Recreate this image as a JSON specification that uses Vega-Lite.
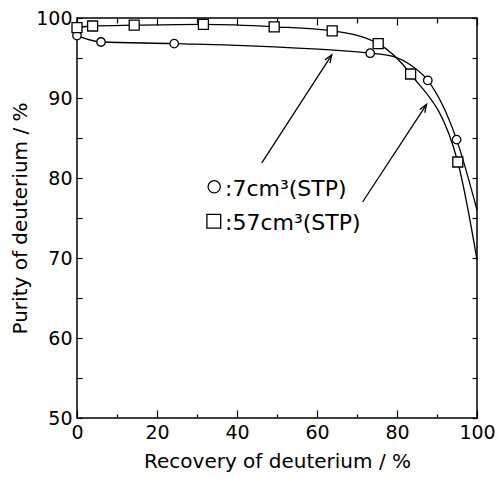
{
  "$schema": "https://vega.github.io/schema/vega-lite/v6.json",
  "width": 400,
  "height": 400,
  "autosize": {"type": "none"},
  "padding": {"left": 77, "top": 18, "right": 21, "bottom": 60},
  "background": "white",
  "config": {
    "view": {"stroke": "black", "strokeWidth": 1.5},
    "font": "DejaVu Sans",
    "axis": {
      "domain": false, "grid": false, "tickColor": "black", "labelColor": "black", "titleColor": "black",
      "labelFont": "DejaVu Sans", "titleFont": "DejaVu Sans", "labelFontSize": 19, "titleFontSize": 20,
      "titleFontWeight": "normal", "tickWidth": 1.2, "labelFlush": false, "labelOverlap": false
    }
  },
  "datasets": {
    "curves": [
      {"series": "7", "x": 0, "y": 97.8},
      {"series": "7", "x": 6, "y": 97.0},
      {"series": "7", "x": 24.3, "y": 96.8},
      {"series": "7", "x": 73.3, "y": 95.6},
      {"series": "7", "x": 79, "y": 95.2},
      {"series": "7", "x": 84, "y": 93.9},
      {"series": "7", "x": 87.7, "y": 92.2},
      {"series": "7", "x": 94.9, "y": 84.8},
      {"series": "7", "x": 100, "y": 76.0},
      {"series": "57", "x": 0, "y": 98.8},
      {"series": "57", "x": 3.9, "y": 99.0},
      {"series": "57", "x": 14.3, "y": 99.1},
      {"series": "57", "x": 31.6, "y": 99.2},
      {"series": "57", "x": 49.3, "y": 98.9},
      {"series": "57", "x": 63.8, "y": 98.4},
      {"series": "57", "x": 75.3, "y": 96.8},
      {"series": "57", "x": 83.4, "y": 93.0},
      {"series": "57", "x": 95.2, "y": 82.0},
      {"series": "57", "x": 100, "y": 69.8}
    ],
    "points": [
      {"series": "7", "x": 0, "y": 97.8},
      {"series": "7", "x": 6, "y": 97.0},
      {"series": "7", "x": 24.3, "y": 96.8},
      {"series": "7", "x": 73.3, "y": 95.6},
      {"series": "7", "x": 87.7, "y": 92.2},
      {"series": "7", "x": 94.9, "y": 84.8},
      {"series": "57", "x": 0, "y": 98.8},
      {"series": "57", "x": 3.9, "y": 99.0},
      {"series": "57", "x": 14.3, "y": 99.1},
      {"series": "57", "x": 31.6, "y": 99.2},
      {"series": "57", "x": 49.3, "y": 98.9},
      {"series": "57", "x": 63.8, "y": 98.4},
      {"series": "57", "x": 75.3, "y": 96.8},
      {"series": "57", "x": 83.4, "y": 93.0},
      {"series": "57", "x": 95.2, "y": 82.0}
    ],
    "legend": [
      {"series": "7", "x": 34.3, "y": 78.9, "tx": 37, "ty": 77.7, "label": ":7cm³(STP)"},
      {"series": "57", "x": 34.2, "y": 74.6, "tx": 37, "ty": 73.5, "label": ":57cm³(STP)"}
    ],
    "arrows": [
      {"x": 46.2, "y": 81.9, "x2": 63.7, "y2": 95.4},
      {"x": 71.4, "y": 77.0, "x2": 87.4, "y2": 89.2}
    ]
  },
  "resolve": {"axis": {"x": "independent", "y": "independent"}},
  "layer": [
    {
      "data": {"name": "curves"},
      "mark": {"type": "line", "interpolate": "monotone", "color": "black", "strokeWidth": 1.3},
      "encoding": {
        "x": {"field": "x", "type": "quantitative", "scale": {"domain": [0, 100], "nice": false, "zero": false},
          "axis": {"orient": "bottom", "values": [0, 10, 20, 30, 40, 50, 60, 70, 80, 90, 100],
            "labelExpr": "datum.value % 20 === 0 ? datum.label : ''",
            "tickSize": {"condition": {"test": "datum.value % 20 === 0", "value": -8}, "value": -4},
            "labelPadding": 13, "title": "Recovery of deuterium / %", "titleX": 200, "titleY": 49,
            "titleBaseline": "alphabetic", "titleAlign": "center"}},
        "y": {"field": "y", "type": "quantitative", "scale": {"domain": [50, 100], "nice": false, "zero": false},
          "axis": {"orient": "left", "values": [50, 55, 60, 65, 70, 75, 80, 85, 90, 95, 100],
            "labelExpr": "datum.value % 10 === 0 ? datum.label : ''",
            "tickSize": -5, "labelPadding": 10, "title": "Purity of deuterium / %",
            "titleAngle": 270, "titleX": -57, "titleY": 200, "titleAlign": "center", "titleBaseline": "middle"}},
        "detail": {"field": "series"}
      }
    },
    {
      "data": {"name": "points"},
      "transform": [{"filter": "datum.series === '7'"}],
      "mark": {"type": "point", "shape": "circle", "filled": true, "fill": "white", "stroke": "black", "strokeWidth": 1.3, "size": 72, "opacity": 1},
      "encoding": {
        "x": {"field": "x", "type": "quantitative",
          "axis": {"orient": "top", "values": [0, 10, 20, 30, 40, 50, 60, 70, 80, 90, 100], "labels": false,
            "tickSize": {"condition": {"test": "datum.value % 20 === 0", "value": -7}, "value": -5}, "title": null}},
        "y": {"field": "y", "type": "quantitative",
          "axis": {"orient": "right", "values": [50, 55, 60, 65, 70, 75, 80, 85, 90, 95, 100], "labels": false,
            "tickSize": -5, "title": null}}
      }
    },
    {
      "data": {"name": "points"},
      "transform": [{"filter": "datum.series === '57'"}],
      "mark": {"type": "point", "shape": "square", "filled": true, "fill": "white", "stroke": "black", "strokeWidth": 1.3, "size": 100, "opacity": 1},
      "encoding": {
        "x": {"field": "x", "type": "quantitative", "axis": null},
        "y": {"field": "y", "type": "quantitative", "axis": null}
      }
    },
    {
      "data": {"name": "legend"},
      "transform": [{"filter": "datum.series === '7'"}],
      "mark": {"type": "point", "shape": "circle", "filled": false, "stroke": "black", "strokeWidth": 1.3, "size": 150, "opacity": 1},
      "encoding": {
        "x": {"field": "x", "type": "quantitative", "axis": null},
        "y": {"field": "y", "type": "quantitative", "axis": null}
      }
    },
    {
      "data": {"name": "legend"},
      "transform": [{"filter": "datum.series === '57'"}],
      "mark": {"type": "point", "shape": "square", "filled": false, "stroke": "black", "strokeWidth": 1.3, "size": 190, "opacity": 1},
      "encoding": {
        "x": {"field": "x", "type": "quantitative", "axis": null},
        "y": {"field": "y", "type": "quantitative", "axis": null}
      }
    },
    {
      "data": {"name": "legend"},
      "mark": {"type": "text", "align": "left", "baseline": "alphabetic", "font": "DejaVu Sans", "fontSize": 22, "color": "black"},
      "encoding": {
        "x": {"field": "tx", "type": "quantitative", "axis": null},
        "y": {"field": "ty", "type": "quantitative", "axis": null},
        "text": {"field": "label"}
      }
    },
    {
      "data": {"name": "arrows"},
      "mark": {"type": "rule", "color": "black", "strokeWidth": 1.3},
      "encoding": {
        "x": {"field": "x", "type": "quantitative", "axis": null},
        "y": {"field": "y", "type": "quantitative", "axis": null},
        "x2": {"field": "x2"},
        "y2": {"field": "y2"}
      }
    },
    {
      "data": {"name": "arrows"},
      "mark": {"type": "point", "shape": "M-0.6,1.6L0,0L0.6,1.6", "filled": false, "stroke": "black", "strokeWidth": 1.3, "size": 100, "angle": 33, "opacity": 1},
      "encoding": {
        "x": {"field": "x2", "type": "quantitative", "axis": null},
        "y": {"field": "y2", "type": "quantitative", "axis": null}
      }
    }
  ]
}
